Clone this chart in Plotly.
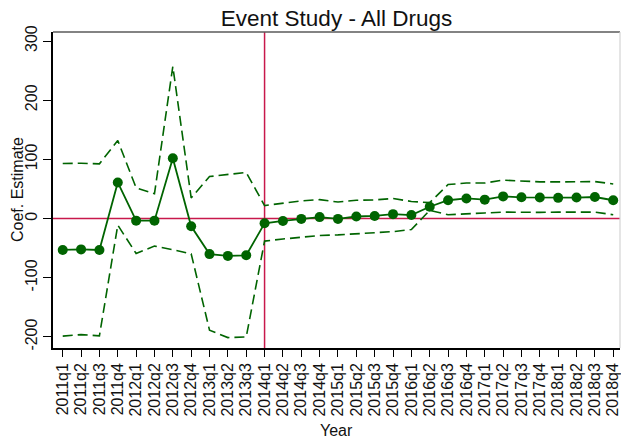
import plotly.graph_objects as go

# Event-study coefficients by quarter (2013q4 is the omitted reference period)
quarters = [
    "2011q1", "2011q2", "2011q3", "2011q4",
    "2012q1", "2012q2", "2012q3", "2012q4",
    "2013q1", "2013q2", "2013q3",
    "2014q1", "2014q2", "2014q3", "2014q4",
    "2015q1", "2015q2", "2015q3", "2015q4",
    "2016q1", "2016q2", "2016q3", "2016q4",
    "2017q1", "2017q2", "2017q3", "2017q4",
    "2018q1", "2018q2", "2018q3", "2018q4",
]
coef = [-53, -52, -53, 61, -3.5, -3.5, 102, -13, -60, -63, -62,
        -8, -4, -0.5, 2.5, -0.5, 3.5, 4.5, 7.5, 6, 20,
        31, 34, 32, 37.5, 36, 35.5, 35, 35.5, 36.5, 31]
ci_upper = [93, 93.5, 92.5, 132, 52, 42, 257, 35, 71, 74.5, 78,
            22, 26, 30, 32, 28, 31, 31.5, 34, 29, 27,
            57.5, 60, 60, 65, 63, 62, 62, 62.5, 62.5, 58.5]
ci_lower = [-198.5, -196, -198, -11, -59, -46.5, -52.5, -59.5, -188.5, -201, -200,
            -38, -34.5, -31, -28.5, -27.5, -26, -24.5, -22, -18.5, 14,
            6.5, 8.5, 9.5, 11, 10.5, 10.5, 11, 11, 11, 6.5]
event_quarter = "2014q1"
y_ticks = [-200, -100, 0, 100, 200, 300]
y_tick_text = ["-200", "-100", "0", "100", "200", "300"]

green = "#006400"
red = "#C8194B"
font_family = "Liberation Sans, Arial, sans-serif"

fig = go.Figure()
fig.add_trace(go.Scatter(x=quarters, y=ci_upper, mode="lines",
                         line=dict(color=green, width=1.6, dash="10px,5px"),
                         hoverinfo="skip", showlegend=False))
fig.add_trace(go.Scatter(x=quarters, y=ci_lower, mode="lines",
                         line=dict(color=green, width=1.6, dash="10px,5px"),
                         hoverinfo="skip", showlegend=False))
fig.add_trace(go.Scatter(x=quarters, y=coef, mode="lines+markers",
                         line=dict(color=green, width=1.8),
                         marker=dict(color=green, size=10),
                         showlegend=False))

ev_idx = quarters.index(event_quarter)
fig.add_shape(type="line", xref="paper", yref="y", x0=0, x1=1, y0=0, y1=0,
              line=dict(color=red, width=1.5), layer="below")
fig.add_shape(type="line", xref="x", yref="paper", x0=ev_idx, x1=ev_idx, y0=0, y1=1,
              line=dict(color=red, width=1.5), layer="below")
# plot-region frame: dark top edge, light right edge
fig.add_shape(type="line", xref="paper", yref="paper", x0=0, x1=1, y0=1, y1=1,
              line=dict(color="#5a5a5a", width=1.5))
fig.add_shape(type="line", xref="paper", yref="paper", x0=1, x1=1, y0=0, y1=1,
              line=dict(color="#d4d4d4", width=1.2))

fig.update_layout(
    width=621, height=445,
    margin=dict(l=53, r=1, t=32, b=97),
    paper_bgcolor="white", plot_bgcolor="white",
    font=dict(family=font_family, color="#111111", size=16),
    title=dict(text="Event Study - All Drugs", x=(53 + 620) / 2 / 621, xanchor="center",
               y=1 - 18 / 445, yanchor="middle",
               font=dict(size=22.5, color="#111111")),
    annotations=[
        dict(text="Year", xref="paper", yref="paper", x=0.5, y=-(430 - 348) / 316,
             xanchor="center", yanchor="middle", showarrow=False,
             font=dict(size=16)),
        dict(text="Coef. Estimate", xref="paper", yref="paper", x=(17 - 53) / 567, y=0.5,
             xanchor="center", yanchor="middle", textangle=-90, showarrow=False,
             font=dict(size=16)),
    ],
)
fig.update_xaxes(
    type="category", categoryorder="array", categoryarray=quarters,
    tickmode="array", tickvals=quarters, ticktext=quarters,
    range=[-0.53, 30.37], tickangle=-90,
    showline=True, linecolor="black", linewidth=1.5,
    ticks="outside", ticklen=7, tickcolor="black", tickwidth=1.2,
    showgrid=False, zeroline=False, tickfont=dict(size=16),
)
fig.update_yaxes(
    range=[-218.6, 315.2], tickvals=y_ticks, ticktext=y_tick_text, tickangle=-90,
    showline=True, linecolor="black", linewidth=1.5,
    ticks="outside", ticklen=8, tickcolor="black", tickwidth=1.2,
    showgrid=False, zeroline=False, tickfont=dict(size=16),
)

fig.write_html("out.html")
